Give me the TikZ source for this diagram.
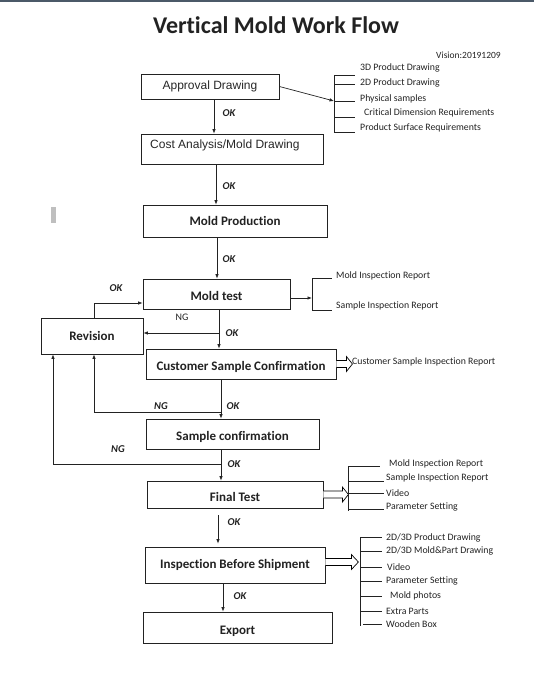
\documentclass[tikz,border=0pt]{standalone}
\usepackage{fontspec}
\setmainfont{Carlito}[Ligatures=NoCommon]
\newfontfamily\arialfont{Liberation Sans}
\usetikzlibrary{arrows.meta}

\definecolor{topbar}{HTML}{4B5968}
\definecolor{ink}{HTML}{222222}

% open double arrow: start anchor, shaft length, head length
\newcommand{\openarrow}[3]{%
  \draw[line width=0.7pt, fill=white] (#1) ++(0,-3.5) -- ++(#2,0) -- ++(0,-4)
    -- ++(#3,7.5) -- ++(-#3,7.5) -- ++(0,-4) -- ++(-#2,0);}

\tikzset{
  box/.style={draw=ink, line width=0.8pt, inner sep=0pt, text=ink,
    font=\bfseries\fontsize{13}{15}\selectfont},
  low/.style={text height=13pt, text depth=0pt},
  arr/.style={-{Latex[length=4.5pt,width=3.5pt]}, line width=0.7pt, draw=ink},
  tag/.style={font=\bfseries\itshape\fontsize{10.5}{12}\selectfont, text=ink, inner sep=0pt},
  side/.style={font=\fontsize{9.8}{11}\selectfont, text=ink, inner sep=0pt, anchor=west},
  tick/.style={line width=0.7pt, draw=ink},
}

\begin{document}
\begin{tikzpicture}[x=1pt,y=-1pt]
\useasboundingbox (0,0) rectangle (534,679);
\fill[topbar] (0,0) rectangle (534,2.5);
\fill[black!25] (51,207) rectangle (56,223);

\node[font=\bfseries\fontsize{24}{28}\selectfont, text=ink] (title) at (276,25.5) {Vertical Mold Work Flow};
\node[side, font=\fontsize{9.5}{11}\selectfont] (vision) at (436,55) {Vision:20191209};

% main boxes
\node[box, minimum width=138, minimum height=25, font=\arialfont\fontsize{12}{14}\selectfont, text=black!85] (appr) at (210,86.5) {Approval Drawing};
\node[box, minimum width=182, minimum height=30] (cost) at (232,149) {};
\node[anchor=west, inner sep=0pt, font=\arialfont\fontsize{12}{14}\selectfont, text=black!85] (costtxt) at (150,145) {Cost Analysis/Mold Drawing};
\node[box, minimum width=184, minimum height=32] (mp) at (235,221) {Mold Production};
\node[box, low, minimum width=147, minimum height=30] (mt) at (216.5,294) {Mold test};
\node[box, minimum width=102, minimum height=36] (rev) at (92,336) {Revision};
\node[box, low, minimum width=190, minimum height=30] (csc) at (241,364) {Customer Sample Confirmation};
\node[box, low, minimum width=173, minimum height=30] (sc) at (232.5,434) {Sample confirmation};
\node[box, low, minimum width=176, minimum height=27] (ft) at (235,494.5) {Final Test};
\node[box, minimum width=180, minimum height=36] (ibs) at (235,565) {Inspection Before Shipment};
\node[box, low, minimum width=189, minimum height=31] (exp) at (237.5,627.5) {Export};

% main flow
\draw[arr] ([xshift=4pt]appr.south) -- ([xshift=-18pt]cost.north);
\draw[arr] ([xshift=-16pt]cost.south) -- ([xshift=-19pt]mp.north);
\draw[arr] ([xshift=-18pt]mp.south) -- ([xshift=0.5pt]mt.north);
\draw[arr] ([xshift=2.5pt]mt.south) -- ([xshift=-22pt]csc.north);
\draw[arr] ([xshift=-20pt]csc.south) -- ([xshift=-11.5pt]sc.north);
\draw[arr] ([xshift=-11.5pt]sc.south) -- ([xshift=-14pt]ft.north);
\draw[arr, shorten <=7pt, shorten >=3pt] ([xshift=-17pt]ft.south) -- ([xshift=-17pt]ibs.north);
\draw[arr] ([xshift=-12pt]ibs.south) -- ([xshift=-14.5pt]exp.north);

% revision loops
\coordinate (ng1) at (219,333);
\coordinate (ng2) at (221,412);
\coordinate (ng3) at (221,464);
\draw[arr] ([xshift=2pt]rev.north) |- ([yshift=-9pt]mt.west);
\draw[arr] (ng1) -- ([yshift=3pt]rev.east);
\draw[arr] (ng2) -| ([xshift=2pt]rev.south);
\draw[arr] (ng3) -| ([xshift=-39pt]rev.south);

% labels on the flow
\node[tag] (ok1) at (229,113) {OK};
\node[tag] (ok2) at (229,186) {OK};
\node[tag] (ok3) at (229,259) {OK};
\node[tag] (ok4) at (116,288) {OK};
\node[font=\fontsize{10}{12}\selectfont, text=ink, inner sep=0pt] (ng1t) at (182,317) {NG};
\node[tag] (ok5) at (232,333) {OK};
\node[tag] (ng2t) at (161,406) {NG};
\node[tag] (ok6) at (233,406) {OK};
\node[tag] (ng3t) at (118,449) {NG};
\node[tag] (ok7) at (234,464) {OK};
\node[tag] (ok8) at (234,522) {OK};
\node[tag] (ok9) at (240,596) {OK};

% approval drawing documents
\coordinate (b1) at (334,101);
\draw[arr] (appr.east) -- (b1);
\draw[tick] (334,75) -- (334,132);
\foreach \y in {75,84,101,117,132} \draw[tick] (334,\y) -- (355,\y);
\node[side] (a1) at (360,68) {3D Product Drawing};
\node[side] (a2) at (360,83) {2D Product Drawing};
\node[side] (a3) at (360,99) {Physical samples};
\node[side] (a4) at (364,113) {Critical Dimension Requirements};
\node[side] (a5) at (360,128) {Product Surface Requirements};

% mold test reports
\coordinate (b2) at (312,298);
\draw[arr] ([yshift=-4pt]mt.east) -- (b2);
\draw[tick] (312,278) -- (312,310);
\foreach \y in {278,310} \draw[tick] (312,\y) -- (332,\y);
\node[side] (m1) at (336,276) {Mold Inspection Report};
\node[side] (m2) at (336,306) {Sample Inspection Report};

% customer sample report
\openarrow{csc.east}{10}{6}
\node[side] (c1) at (352,362) {Customer Sample Inspection Report};

% final test documents
\openarrow{ft.east}{19}{6}
\draw[tick] (348,466) -- (348,511);
\draw[tick] (348,466) -- (380,466);
\foreach \y in {481,493,509} \draw[tick] (348,\y) -- (384,\y);
\node[side] (f1) at (389,464) {Mold Inspection Report};
\node[side] (f2) at (386,478) {Sample Inspection Report};
\node[side] (f3) at (386,493) {Video};
\node[side] (f4) at (386,507) {Parameter Setting};

% shipment documents
\openarrow{[yshift=3pt]ibs.east}{26}{7}
\draw[tick] (360,537) -- (360,626);
\foreach \y in {537,551,567,581,596,611} \draw[tick] (360,\y) -- (382,\y);
\draw[tick] (363,624) -- (382,624);
\node[side] (i1) at (386,538) {2D/3D Product Drawing};
\node[side] (i2) at (386,551) {2D/3D Mold\&Part Drawing};
\node[side] (i3) at (387,567) {Video};
\node[side] (i4) at (386,581) {Parameter Setting};
\node[side] (i5) at (390,596) {Mold photos};
\node[side] (i6) at (386,611) {Extra Parts};
\node[side] (i7) at (386,624) {Wooden Box};
\end{tikzpicture}
\end{document}
